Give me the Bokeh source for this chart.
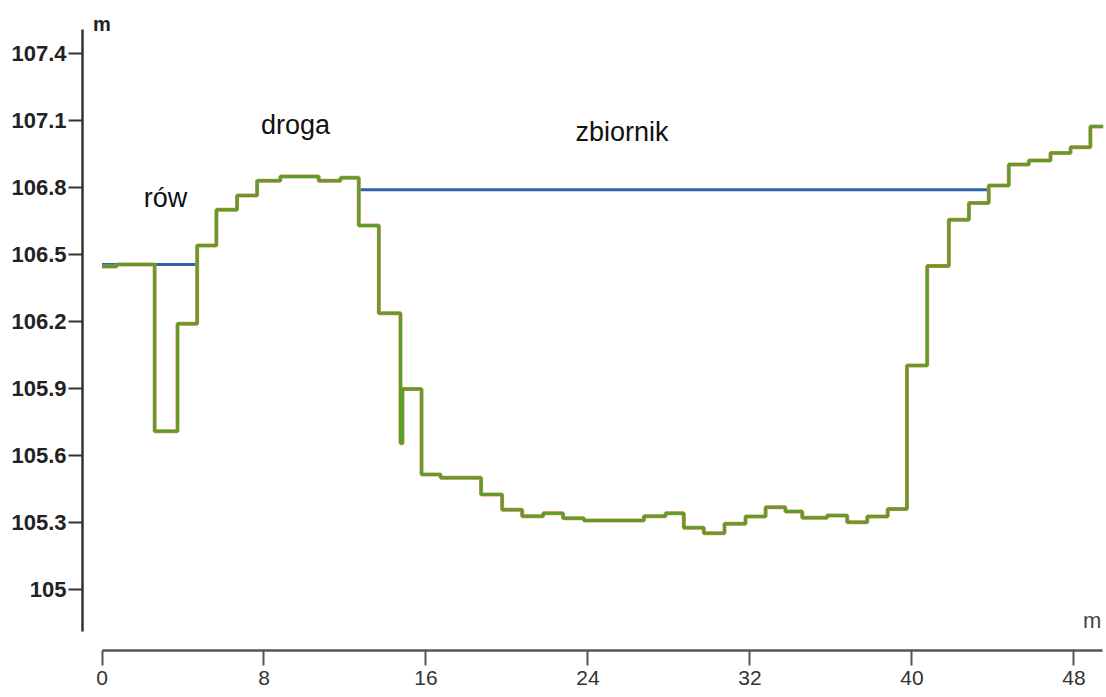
from bokeh.plotting import figure
from bokeh.models import Range1d, FixedTicker, Label, ColumnDataSource
from bokeh.embed import file_html
from bokeh.resources import INLINE

# --- data ---
# terrain profile as step segments: start distance [m], elevation [m]
odleglosc = [0.00, 0.72, 2.60, 3.73, 4.70, 5.65, 6.67, 7.66, 8.81, 10.70,
             11.78, 12.68, 13.67, 14.74, 14.84, 15.78, 16.72, 18.72, 19.76, 20.75,
             21.79, 22.77, 23.80, 26.76, 27.83, 28.73, 29.72, 30.74, 31.78, 32.77,
             33.75, 34.58, 35.81, 36.80, 37.79, 38.80, 39.75, 40.75, 41.82, 42.81,
             43.79, 44.78, 45.77, 46.84, 47.83, 48.81]
rzedna = [106.446, 106.455, 105.709, 106.190, 106.540, 106.700, 106.764, 106.830, 106.849, 106.830,
          106.843, 106.630, 106.237, 105.655, 105.898, 105.515, 105.500, 105.425, 105.357, 105.328,
          105.342, 105.319, 105.309, 105.328, 105.342, 105.276, 105.252, 105.294, 105.327, 105.368,
          105.349, 105.321, 105.331, 105.301, 105.327, 105.361, 106.003, 106.448, 106.655, 106.730,
          106.809, 106.903, 106.921, 106.954, 106.980, 107.073]
koniec_profilu = 49.44

# water levels (start, end, elevation)
woda_od = [0.0, 12.68]
woda_do = [4.70, 43.79]
woda_h = [106.455, 106.79]

# annotations
opisy = ["rów", "droga", "zbiornik"]
opisy_x = [3.14, 9.56, 25.68]
opisy_y = [106.755, 107.08, 107.05]

# ticks
x_ticks = [0, 8, 16, 24, 32, 40, 48]
y_ticks = [105.0, 105.3, 105.6, 105.9, 106.2, 106.5, 106.8, 107.1, 107.4]
y_tick_labels = ["105", "105.3", "105.6", "105.9", "106.2", "106.5", "106.8", "107.1", "107.4"]

# build step polyline from the segment data
xs, ys = [], []
for i, (x0, h) in enumerate(zip(odleglosc, rzedna)):
    x1 = odleglosc[i + 1] if i + 1 < len(odleglosc) else koniec_profilu
    xs += [x0, x1]
    ys += [h, h]
profil = ColumnDataSource(dict(x=xs, y=ys))
woda = ColumnDataSource(dict(x0=woda_od, x1=woda_do, y=woda_h))

FONT = "Liberation Sans"

p = figure(width=1105, height=696,
           x_range=Range1d(-0.963, 49.556), y_range=Range1d(104.727, 107.637),
           output_backend="svg", toolbar_location=None,
           min_border_left=82, min_border_right=0, min_border_top=0, min_border_bottom=46)
p.outline_line_color = None
p.grid.visible = False
p.background_fill_color = "white"

p.segment(x0="x0", y0="y", x1="x1", y1="y", source=woda, line_color="#2e63a6", line_width=3)
p.line(x="x", y="y", source=profil, line_color="#e8875c", line_width=4)
p.line(x="x", y="y", source=profil, line_color="#5b9e2a", line_width=3)

for t, x, y in zip(opisy, opisy_x, opisy_y):
    p.add_layout(Label(x=x, y=y, text=t, text_align="center", text_baseline="middle",
                       text_font=FONT, text_font_size="27px", text_color="#111111"))

# axis unit labels
p.add_layout(Label(x=0.0, y=107.53, text="m", text_align="center", text_baseline="middle",
                   text_font=FONT, text_font_size="20px", text_font_style="bold",
                   text_color="#222222"))
p.add_layout(Label(x=48.9, y=104.862, text="m", text_align="center", text_baseline="middle",
                   text_font=FONT, text_font_size="22px", text_color="#444444"))

xa = p.xaxis[0]
xa.ticker = FixedTicker(ticks=x_ticks)
xa.bounds = (0, 49.39)
xa.axis_line_color = "#555555"
xa.axis_line_width = 2.5
xa.major_tick_line_color = "#555555"
xa.major_tick_line_width = 2
xa.major_tick_in = 0
xa.major_tick_out = 15
xa.minor_tick_line_color = None
xa.major_label_standoff = 5
xa.major_label_text_font = FONT
xa.major_label_text_font_size = "21px"
xa.major_label_text_color = "#333333"

ya = p.yaxis[0]
ya.ticker = FixedTicker(ticks=y_ticks)
ya.major_label_overrides = {t: l for t, l in zip(y_ticks, y_tick_labels)}
ya.bounds = (104.81, 107.507)
ya.axis_line_color = "#333333"
ya.axis_line_width = 2.5
ya.major_tick_line_color = "#333333"
ya.major_tick_line_width = 2
ya.major_tick_in = 0
ya.major_tick_out = 14
ya.minor_tick_line_color = None
ya.major_label_standoff = 2
ya.major_label_text_font = FONT
ya.major_label_text_font_size = "22px"
ya.major_label_text_font_style = "bold"
ya.major_label_text_color = "#222222"

open("out.html", "w").write(file_html(p, INLINE))
